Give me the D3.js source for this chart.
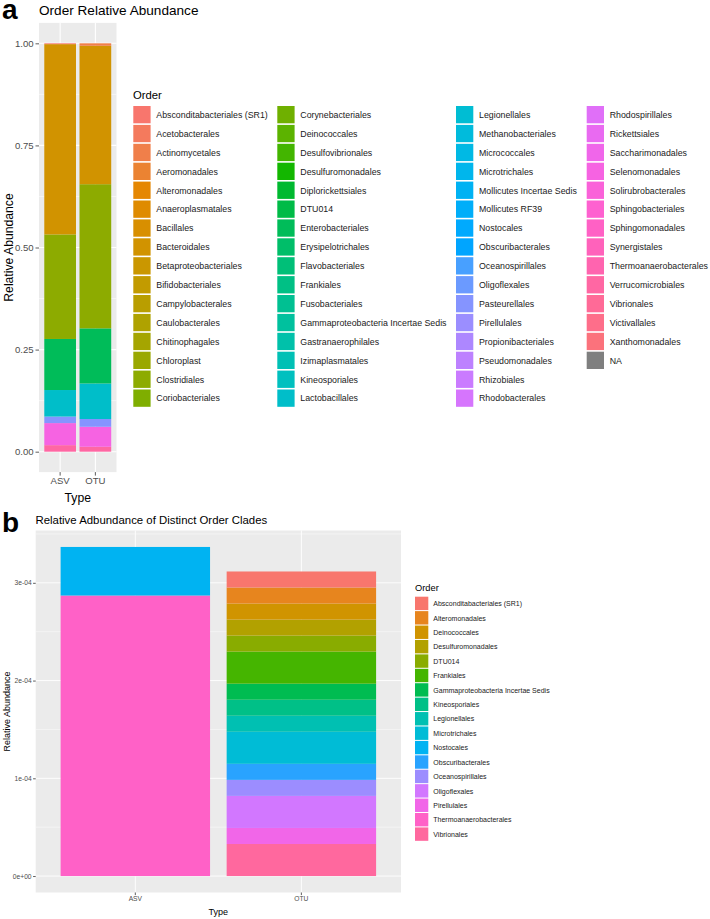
<!DOCTYPE html>
<html>
<head>
<meta charset="utf-8">
<script src="https://cdn.jsdelivr.net/npm/d3@7"></script>
<style>
  html, body { margin: 0; padding: 0; background: #fff; }
  svg { display: block; font-family: "Liberation Sans", Arial, sans-serif; }
</style>
</head>
<body>
<svg id="chart" width="710" height="919"></svg>
<script>
// ---------------- DATA ----------------
const ordersA = [
  "Absconditabacteriales (SR1)","Acetobacterales","Actinomycetales","Aeromonadales","Alteromonadales",
  "Anaeroplasmatales","Bacillales","Bacteroidales","Betaproteobacteriales","Bifidobacteriales",
  "Campylobacterales","Caulobacterales","Chitinophagales","Chloroplast","Clostridiales","Coriobacteriales",
  "Corynebacteriales","Deinococcales","Desulfovibrionales","Desulfuromonadales","Diplorickettsiales",
  "DTU014","Enterobacteriales","Erysipelotrichales","Flavobacteriales","Frankiales","Fusobacteriales",
  "Gammaproteobacteria Incertae Sedis","Gastranaerophilales","Izimaplasmatales","Kineosporiales","Lactobacillales",
  "Legionellales","Methanobacteriales","Micrococcales","Microtrichales","Mollicutes Incertae Sedis",
  "Mollicutes RF39","Nostocales","Obscuribacterales","Oceanospirillales","Oligoflexales","Pasteurellales",
  "Pirellulales","Propionibacteriales","Pseudomonadales","Rhizobiales","Rhodobacterales",
  "Rhodospirillales","Rickettsiales","Saccharimonadales","Selenomonadales","Solirubrobacterales",
  "Sphingobacteriales","Sphingomonadales","Synergistales","Thermoanaerobacterales","Verrucomicrobiales",
  "Vibrionales","Victivallales","Xanthomonadales"
];
const typesA = ["ASV", "OTU"];
const stackOrdersA = ["Absconditabacteriales (SR1)","Actinomycetales","Bacteroidales","Clostridiales",
  "Enterobacteriales","Lactobacillales","Pasteurellales","Selenomonadales","Verrucomicrobiales"];
const asvValuesA = [0.002, 0.000, 0.466, 0.256, 0.125, 0.065, 0.016, 0.054, 0.016];
const otuValuesA = [0.000, 0.006, 0.339, 0.353, 0.135, 0.087, 0.019, 0.049, 0.012];
const ticksA = [0, 0.25, 0.5, 0.75, 1];
const tickLabelsA = ["0.00", "0.25", "0.50", "0.75", "1.00"];
const minorTicksA = [0.125, 0.375, 0.625, 0.875];

const ordersB = ["Absconditabacteriales (SR1)","Alteromonadales","Deinococcales","Desulfuromonadales","DTU014",
  "Frankiales","Gammaproteobacteria Incertae Sedis","Kineosporiales","Legionellales","Microtrichales",
  "Nostocales","Obscuribacterales","Oceanospirillales","Oligoflexales","Pirellulales",
  "Thermoanaerobacterales","Vibrionales"];
const typesB = ["ASV", "OTU"];
const asvValuesB = [0,0,0,0,0,0,0,0,0,0,4.97e-5,0,0,0,0,2.870e-4,0];
const otuValuesB = [1.64e-5,1.64e-5,1.64e-5,1.64e-5,1.64e-5,3.28e-5,1.64e-5,1.64e-5,1.64e-5,3.28e-5,
  0,1.64e-5,1.64e-5,3.28e-5,1.64e-5,0,3.28e-5];
const ticksB = [0, 1e-4, 2e-4, 3e-4];
const tickLabelsB = ["0e+00", "1e-04", "2e-04", "3e-04"];
const minorTicksB = [0.5e-4, 1.5e-4, 2.5e-4, 3.5e-4];

// ---------------- ggplot hue palette (polarLUV) ----------------
function hclHex(h, c, l) {
  const hr = h * Math.PI / 180;
  const U = c * Math.cos(hr), V = c * Math.sin(hr);
  const Xn = 95.047, Yn = 100, Zn = 108.883;
  const den = Xn + 15 * Yn + 3 * Zn;
  const un = 4 * Xn / den, vn = 9 * Yn / den;
  const Y = l > 8 ? Yn * Math.pow((l + 16) / 116, 3) : Yn * l / 903.3;
  const u = U / (13 * l) + un, v = V / (13 * l) + vn;
  const X = 9 * Y * u / (4 * v);
  const Z = -X / 3 - 5 * Y + 3 * Y / v;
  const x = X / 100, y = Y / 100, z = Z / 100;
  let r = 3.240479 * x - 1.537150 * y - 0.498535 * z;
  let g = -0.969256 * x + 1.875992 * y + 0.041556 * z;
  let b = 0.055648 * x - 0.204043 * y + 1.057311 * z;
  const gam = t => { t = t <= 0.0031308 ? 12.92 * t : 1.055 * Math.pow(t, 1 / 2.4) - 0.055; return Math.round(Math.max(0, Math.min(1, t)) * 255); };
  return d3.rgb(gam(r), gam(g), gam(b)).formatHex();
}
function huePal(levels) {
  const n = levels.length;
  return d3.scaleOrdinal().domain(levels).range(levels.map((d, i) => hclHex(15 + i * 360 / n, 100, 65)));
}
const colorA = huePal(ordersA);
const colorB = huePal(ordersB);

const svg = d3.select("#chart");
svg.append("rect").attr("width", 710).attr("height", 919).attr("fill", "#fff");

// generic panel drawer
function drawPanel(cfg) {
  const g = svg.append("g");
  const rows = cfg.types.map((t, i) => {
    const row = { type: t };
    cfg.keys.forEach((k, j) => row[k] = cfg.values[i][j]);
    return row;
  });
  // first level on top -> stack from the last level
  const stackKeys = cfg.keys.slice().reverse();
  const series = d3.stack().keys(stackKeys)(rows);
  const maxTot = d3.max(rows, r => d3.sum(cfg.keys, k => r[k]));
  const y = d3.scaleLinear().domain([-0.05 * maxTot, 1.05 * maxTot]).range([cfg.bottom, cfg.top]);
  const x = d3.scaleBand().domain(cfg.types).range([cfg.left, cfg.right]).paddingInner(0.1).paddingOuter(0.15);

  g.append("rect").attr("x", cfg.left).attr("y", cfg.top)
    .attr("width", cfg.right - cfg.left).attr("height", cfg.bottom - cfg.top).attr("fill", "#EBEBEB");
  g.selectAll(".minor").data(cfg.minor).join("line")
    .attr("x1", cfg.left).attr("x2", cfg.right).attr("y1", d => y(d)).attr("y2", d => y(d))
    .attr("stroke", "#fff").attr("stroke-width", cfg.gw * 0.5);
  g.selectAll(".major").data(cfg.ticks).join("line")
    .attr("x1", cfg.left).attr("x2", cfg.right).attr("y1", d => y(d)).attr("y2", d => y(d))
    .attr("stroke", "#fff").attr("stroke-width", cfg.gw);
  g.selectAll(".vmajor").data(cfg.types).join("line")
    .attr("x1", d => x(d) + x.bandwidth() / 2).attr("x2", d => x(d) + x.bandwidth() / 2)
    .attr("y1", cfg.top).attr("y2", cfg.bottom)
    .attr("stroke", "#fff").attr("stroke-width", cfg.gw);

  series.forEach(s => {
    g.append("g").selectAll("rect").data(s.filter(d => d[1] - d[0] > 0)).join("rect")
      .attr("x", d => x(d.data.type)).attr("width", x.bandwidth())
      .attr("y", d => y(d[1])).attr("height", d => y(d[0]) - y(d[1]))
      .attr("fill", cfg.color(s.key));
  });

  // y axis
  const ya = d3.axisLeft(y).tickValues(cfg.ticks).tickSize(cfg.tick).tickPadding(cfg.tpad)
    .tickFormat((d, i) => cfg.tickLabels[i]);
  const yg = g.append("g").attr("transform", `translate(${cfg.left},0)`).call(ya);
  yg.select(".domain").remove();
  yg.selectAll("line").attr("stroke", "#333").attr("stroke-width", 0.8);
  yg.selectAll("text").attr("fill", "#4D4D4D").style("font-size", cfg.tickFont + "px")
    .style("font-family", "Liberation Sans, Arial, sans-serif");
  // x axis
  const xa = d3.axisBottom(x).tickSize(cfg.tick).tickPadding(cfg.tpad);
  const xg = g.append("g").attr("transform", `translate(0,${cfg.bottom})`).call(xa);
  xg.select(".domain").remove();
  xg.selectAll("line").attr("stroke", "#333").attr("stroke-width", 0.8);
  xg.selectAll("text").attr("fill", "#4D4D4D").style("font-size", cfg.tickFont + "px")
    .style("font-family", "Liberation Sans, Arial, sans-serif");

  // titles
  g.append("text").attr("x", (cfg.left + cfg.right) / 2).attr("y", cfg.xTitleY)
    .attr("text-anchor", "middle").attr("font-size", cfg.axisTitleFont).attr("fill", "#000").text("Type");
  g.append("text").attr("transform", `translate(${cfg.yTitleX},${(cfg.top + cfg.bottom) / 2}) rotate(-90)`)
    .attr("text-anchor", "middle").attr("dominant-baseline", "central")
    .attr("font-size", cfg.axisTitleFont).attr("fill", "#000").text("Relative Abundance");
  g.append("text").attr("x", cfg.titleX).attr("y", cfg.titleY).attr("dominant-baseline", "central")
    .attr("font-size", cfg.titleFont).attr("fill", "#000").text(cfg.title);
  g.append("text").attr("x", cfg.tagX).attr("y", cfg.tagY).attr("font-size", 28)
    .attr("font-weight", "bold").attr("fill", "#000").text(cfg.tag);
}

drawPanel({
  types: typesA, keys: stackOrdersA, values: [asvValuesA, otuValuesA], color: colorA,
  top: 22.9, bottom: 472.1, left: 39, right: 116.5,
  ticks: ticksA, tickLabels: tickLabelsA, minor: minorTicksA, gw: 1.1,
  tick: 3.5, tpad: 1.8, tickFont: 9.6, axisTitleFont: 12.2, xTitleY: 502, yTitleX: 9,
  title: "Order Relative Abundance", titleX: 39, titleY: 10, titleFont: 13.6,
  tag: "a", tagX: 2, tagY: 19
});

drawPanel({
  types: typesB, keys: ordersB, values: [asvValuesB, otuValuesB], color: colorB,
  top: 530.5, bottom: 892.5, left: 35.7, right: 401,
  ticks: ticksB, tickLabels: tickLabelsB, minor: minorTicksB, gw: 0.9,
  tick: 2.6, tpad: 1.5, tickFont: 6.7, axisTitleFont: 9, xTitleY: 915, yTitleX: 6.5,
  title: "Relative Adbundance of Distinct Order Clades", titleX: 35.5, titleY: 520, titleFont: 11.4,
  tag: "b", tagX: 2, tagY: 532
});

// ---------------- Legends ----------------
// Panel a legend (4 columns, column-major, with NA)
const legA = svg.append("g");
legA.append("text").attr("x", 133).attr("y", 95).attr("dominant-baseline", "central")
  .attr("font-size", 11.3).attr("fill", "#000").text("Order");
const legendItemsA = ordersA.map(o => ({ name: o, fill: colorA(o) })).concat([{ name: "NA", fill: "#7F7F7F" }]);
const colX = [133.3, 277.3, 456, 586.7];
const perCol = 16, pitchA = 18.9, keyA = 17.3;
legendItemsA.forEach((d, i) => {
  const c = Math.floor(i / perCol), r = i % perCol;
  const yy = 106 + r * pitchA;
  legA.append("rect").attr("x", colX[c]).attr("y", yy).attr("width", keyA).attr("height", keyA).attr("fill", d.fill);
  legA.append("text").attr("x", colX[c] + 23).attr("y", yy + keyA / 2 + 0.3)
    .attr("dominant-baseline", "central").attr("font-size", 8.8).attr("fill", "#1A1A1A").text(d.name);
});

// Panel b legend
const legB = svg.append("g");
legB.append("text").attr("x", 415).attr("y", 588).attr("dominant-baseline", "central")
  .attr("font-size", 9.3).attr("fill", "#000").text("Order");
const pitchB = 14.42, keyBw = 13.3, keyBh = 13.4;
ordersB.forEach((o, i) => {
  const yy = 596.7 + i * pitchB;
  legB.append("rect").attr("x", 415).attr("y", yy).attr("width", keyBw).attr("height", keyBh).attr("fill", colorB(o));
  legB.append("text").attr("x", 433.3).attr("y", yy + keyBh / 2 + 0.2)
    .attr("dominant-baseline", "central").attr("font-size", 7.0).attr("fill", "#1A1A1A").text(o);
});
</script>
</body>
</html>
